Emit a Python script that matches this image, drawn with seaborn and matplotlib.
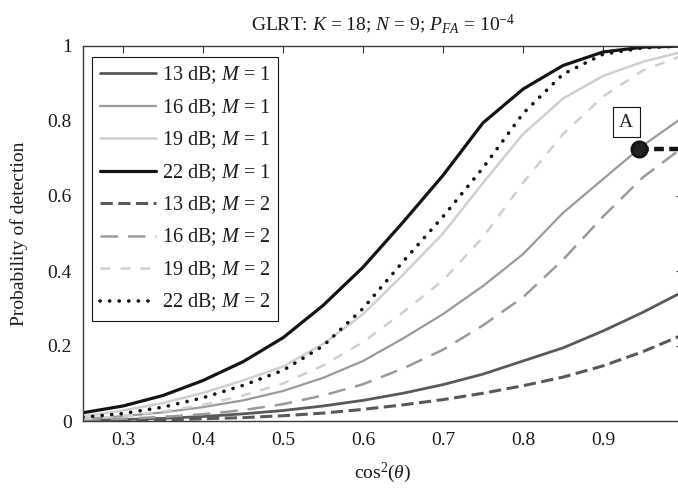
import numpy as np
import pandas as pd
import matplotlib
matplotlib.use("Agg")
import matplotlib.pyplot as plt
import seaborn as sns

# cos^2(theta) grid
cos2 = [0.25, 0.30, 0.35, 0.40, 0.45, 0.50, 0.55, 0.60,
        0.65, 0.70, 0.75, 0.80, 0.85, 0.90, 0.95, 1.00]

# Probability of detection, M = 1
pd_13_m1 = [0.002, 0.004, 0.007, 0.012, 0.019, 0.028, 0.040, 0.055,
            0.074, 0.097, 0.125, 0.160, 0.195, 0.240, 0.290, 0.345]
pd_16_m1 = [0.006, 0.013, 0.023, 0.037, 0.055, 0.080, 0.115, 0.160,
            0.220, 0.285, 0.360, 0.445, 0.555, 0.645, 0.735, 0.810]
pd_19_m1 = [0.012, 0.028, 0.048, 0.075, 0.108, 0.145, 0.205, 0.285,
            0.390, 0.500, 0.635, 0.765, 0.860, 0.920, 0.958, 0.985]
pd_22_m1 = [0.022, 0.040, 0.068, 0.108, 0.158, 0.222, 0.308, 0.410,
            0.530, 0.655, 0.795, 0.885, 0.948, 0.984, 0.997, 1.000]

# Probability of detection, M = 2
pd_13_m2 = [0.001, 0.002, 0.003, 0.006, 0.009, 0.014, 0.021, 0.031,
            0.043, 0.057, 0.074, 0.094, 0.117, 0.147, 0.185, 0.230]
pd_16_m2 = [0.003, 0.006, 0.011, 0.018, 0.029, 0.045, 0.068, 0.098,
            0.140, 0.190, 0.255, 0.330, 0.430, 0.545, 0.650, 0.730]
pd_19_m2 = [0.006, 0.013, 0.025, 0.043, 0.068, 0.100, 0.148, 0.210,
            0.290, 0.375, 0.490, 0.635, 0.765, 0.865, 0.935, 0.975]
pd_22_m2 = [0.010, 0.020, 0.037, 0.062, 0.095, 0.135, 0.200, 0.300,
            0.425, 0.545, 0.675, 0.820, 0.925, 0.978, 0.995, 1.000]

series_labels = ["13 dB; $M$ = 1", "16 dB; $M$ = 1", "19 dB; $M$ = 1", "22 dB; $M$ = 1",
                 "13 dB; $M$ = 2", "16 dB; $M$ = 2", "19 dB; $M$ = 2", "22 dB; $M$ = 2"]
series_values = [pd_13_m1, pd_16_m1, pd_19_m1, pd_22_m1,
                 pd_13_m2, pd_16_m2, pd_19_m2, pd_22_m2]

# Operating point A on the 16 dB, M = 1 curve
point_a_x = [0.945]
point_a_y = [0.725]

x_ticks = [0.3, 0.4, 0.5, 0.6, 0.7, 0.8, 0.9]
x_tick_labels = ["0.3", "0.4", "0.5", "0.6", "0.7", "0.8", "0.9"]
y_ticks = [0, 0.2, 0.4, 0.6, 0.8, 1.0]
y_tick_labels = ["0", "0.2", "0.4", "0.6", "0.8", "1"]

sns.set_theme(style="white")
plt.rcParams["font.family"] = ["Liberation Serif", "DejaVu Serif"]
plt.rcParams["mathtext.fontset"] = "custom"
plt.rcParams["mathtext.rm"] = "Liberation Serif"
plt.rcParams["mathtext.it"] = "Liberation Serif:italic"
plt.rcParams["mathtext.bf"] = "Liberation Serif:bold"
plt.rcParams["axes.unicode_minus"] = True

dark, mid, light, black = "#595959", "#9b9b9b", "#d0d0d0", "#141414"
styles = [
    dict(color=dark, lw=2.0, ls="-"),
    dict(color=mid, lw=1.6, ls="-"),
    dict(color=light, lw=1.8, ls="-"),
    dict(color=black, lw=2.3, ls="-"),
    dict(color=dark, lw=2.2, ls=(0, (4.0, 1.8))),
    dict(color=mid, lw=1.8, ls=(0, (7.0, 4.0))),
    dict(color=light, lw=1.8, ls=(0, (4.0, 4.0))),
    dict(color=black, lw=2.6, ls=(0, (0.05, 2.6))),
]

fig = plt.figure(figsize=(6.78, 4.91), dpi=100)
# the right edge of the axes box sits just past the figure edge
ax = fig.add_axes([83 / 678, 70 / 491, 600 / 678, 375 / 491])

for label, vals, st in zip(series_labels, series_values, styles):
    df = pd.DataFrame({"cos2": cos2, "pd": vals})
    sns.lineplot(data=df, x="cos2", y="pd", ax=ax, color=st["color"],
                 linewidth=st["lw"], linestyle=st["ls"], label=label,
                 dash_capstyle="round" if st["color"] == black and st["ls"] != "-" else "butt")

# point A and its dashed marker line
ax.plot([point_a_x[0], 1.0], [point_a_y[0], point_a_y[0]], color=black,
        lw=3.2, ls=(0, (2.2, 1.2)), zorder=5)
ax.plot(point_a_x, point_a_y, marker="o", ms=11, mfc="#222222", mec=black,
        mew=2, ls="none", zorder=6)
ax.text(point_a_x[0] - 0.016, point_a_y[0] + 0.072, "A", ha="center", va="center",
        fontsize=14, bbox=dict(boxstyle="square,pad=0.33", fc="white", ec=black, lw=0.8))

ax.set_xlim(0.25, 1.0)
ax.set_ylim(0, 1)
ax.set_xticks(x_ticks)
ax.set_xticklabels(x_tick_labels)
ax.set_yticks(y_ticks)
ax.set_yticklabels(y_tick_labels)
ax.tick_params(direction="in", top=True, right=True, length=5, width=0.8,
               colors="#333333", labelcolor="#1a1a1a", labelsize=14, pad=8)
for sp in ax.spines.values():
    sp.set_color("#3a3a3a")
    sp.set_linewidth(1.0)

ax.set_xlabel(r"cos$^2$($\theta$)", fontsize=14, labelpad=8, color="#1a1a1a")
ax.set_ylabel("Probability of detection", fontsize=14, labelpad=14, color="#1a1a1a")
ax.set_title(r"GLRT: $K$ = 18; $N$ = 9; $P_{FA}$ = 10$^{-4}$", fontsize=14,
             pad=11, color="#1a1a1a")

leg = ax.legend(loc="upper left", bbox_to_anchor=(0.015, 0.971), borderaxespad=0,
                fontsize=14.5, handlelength=2.8, handletextpad=0.3, labelspacing=0.54,
                borderpad=0.38, frameon=True, fancybox=False, framealpha=1)
leg.get_frame().set_edgecolor(black)
leg.get_frame().set_linewidth(0.8)
for t in leg.get_texts():
    t.set_color("#1a1a1a")

fig.savefig("out.png", dpi=100)
